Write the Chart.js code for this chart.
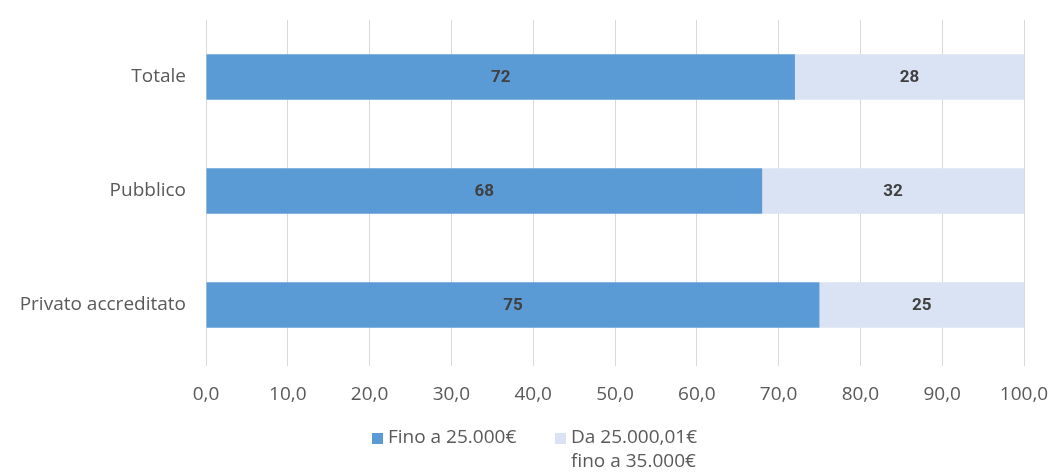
<!DOCTYPE html>
<html lang="it">
<head>
<meta charset="UTF-8" />
<title>Retribuzione</title>
<script src="https://cdn.jsdelivr.net/npm/chart.js"></script>
<style>
  html, body { margin: 0; padding: 0; background: #fff; }
  .box { width: 1052px; height: 472px; position: relative; }
</style>
</head>
<body>
<div class="box">
  <canvas id="grafico" width="1052" height="472"></canvas>
</div>
<script>
const categorie = ["Totale", "Pubblico", "Privato accreditato"];
const fino25 = [72, 68, 75];
const da25a35 = [28, 32, 25];
const etichette = ["Fino a 25.000€", ["Da 25.000,01€", "fino a 35.000€"]];
const colori = ["#5b9bd5", "#dae3f3"];

const FONT = "'Open Sans', 'Noto Sans', sans-serif";
const grigio = "#595959";

// valori al centro di ogni segmento
const valoriBarre = {
  id: "valoriBarre",
  afterDatasetsDraw(chart) {
    const ctx = chart.ctx;
    ctx.save();
    ctx.font = "700 17px Roboto, sans-serif";
    ctx.fillStyle = "#404040";
    ctx.textAlign = "center";
    ctx.textBaseline = "middle";
    chart.data.datasets.forEach((ds, i) => {
      chart.getDatasetMeta(i).data.forEach((bar, j) => {
        const x = (bar.base + bar.x) / 2;
        ctx.fillText(String(ds.data[j]), x, bar.y + 1);
      });
    });
    ctx.restore();
  }
};

// legenda sotto l'asse, con la seconda voce su due righe
const legenda = {
  id: "legenda",
  afterDraw(chart) {
    const ctx = chart.ctx;
    ctx.save();
    ctx.font = "19px " + FONT;
    ctx.textBaseline = "middle";
    ctx.textAlign = "left";
    const xs = [372, 555];
    const y = 438;
    etichette.forEach((t, i) => {
      ctx.fillStyle = colori[i];
      ctx.fillRect(xs[i], y - 5, 11, 11);
      ctx.fillStyle = grigio;
      const righe = Array.isArray(t) ? t : [t];
      righe.forEach((r, k) => {
        ctx.fillText(r, xs[i] + 16, y + k * 24);
      });
    });
    ctx.restore();
  }
};

new Chart(document.getElementById("grafico"), {
  type: "bar",
  data: {
    labels: categorie,
    datasets: [
      { label: "Fino a 25.000€", data: fino25, backgroundColor: colori[0] },
      { label: "Da 25.000,01€ fino a 35.000€", data: da25a35, backgroundColor: colori[1] }
    ]
  },
  options: {
    indexAxis: "y",
    responsive: false,
    animation: false,
    layout: { padding: { top: 20, right: 28, left: 0, bottom: 0 } },
    datasets: { bar: { categoryPercentage: 1, barPercentage: 0.4 } },
    plugins: { legend: { display: false }, tooltip: { enabled: false } },
    scales: {
      x: {
        stacked: true,
        min: 0,
        max: 100,
        ticks: {
          stepSize: 10,
          color: grigio,
          font: { family: FONT, size: 19 },
          padding: 17,
          callback: v => v.toFixed(1).replace(".", ",")
        },
        grid: { color: "#d9d9d9", tickLength: 4, drawTicks: true },
        border: { display: false },
        afterFit(scale) {
          scale.height = 110;
          scale.paddingLeft = 0;
          scale.paddingRight = 0;
        }
      },
      y: {
        stacked: true,
        ticks: { color: grigio, font: { family: FONT, size: 19 }, padding: 12 },
        grid: { display: false },
        border: { display: false },
        afterFit(scale) {
          scale.width = 206;
          scale.paddingTop = 0;
          scale.paddingBottom = 0;
        }
      }
    }
  },
  plugins: [valoriBarre, legenda]
});
</script>
</body>
</html>
